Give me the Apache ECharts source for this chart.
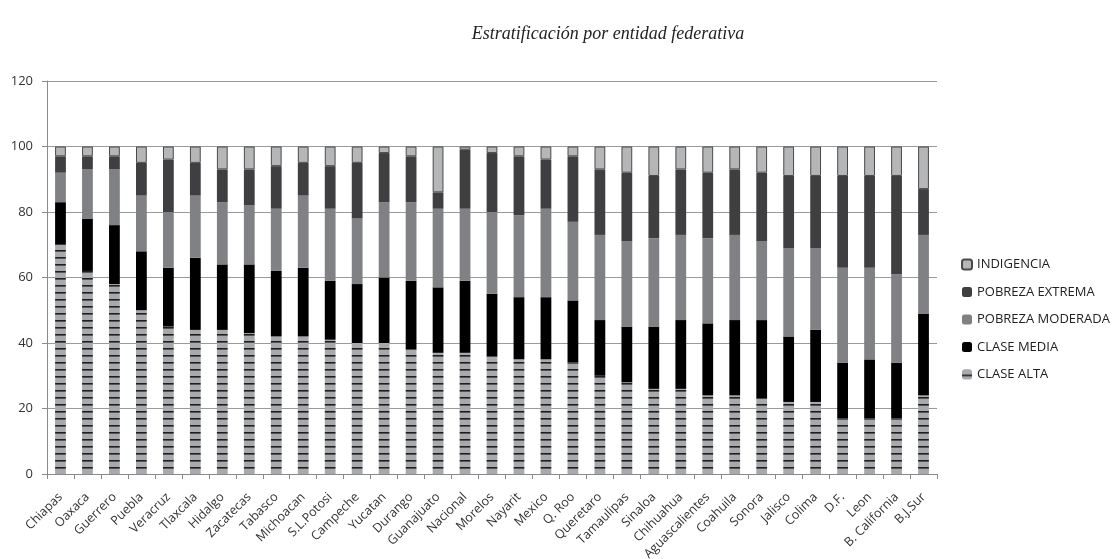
<!DOCTYPE html>
<html><head><meta charset="utf-8">
<script src="https://cdn.jsdelivr.net/npm/echarts@6/dist/echarts.min.js"></script>
<style>html,body{margin:0;padding:0;background:#fff}#c{width:1118px;height:559px}</style>
</head><body><div id="c"></div>
<script>
const categories = ['Chiapas','Oaxaca','Guerrero','Puebla','Veracruz','Tlaxcala','Hidalgo','Zacatecas','Tabasco','Michoacan','S.L.Potosi','Campeche','Yucatan','Durango','Guanajuato','Nacional','Morelos','Nayarit','Mexico','Q. Roo','Queretaro','Tamaulipas','Sinaloa','Chihuahua','Aguascalientes','Coahuila','Sonora','Jalisco','Colima','D.F.','Leon','B. California','B.J.Sur'];
const claseAlta      = [70,62,58,50,45,44,44,43,42,42,41,40,40,38,37,37,36,35,35,34,30,28,26,26,24,24,23,22,22,17,17,17,24];
const claseMedia     = [13,16,18,18,18,22,20,21,20,21,18,18,20,21,20,22,19,19,19,19,17,17,19,21,22,23,24,20,22,17,18,17,25];
const pobrezaModerada= [ 9,15,17,17,17,19,19,18,19,22,22,20,23,24,24,22,25,25,27,24,26,26,27,26,26,26,24,27,25,29,28,27,24];
const pobrezaExtrema = [ 5, 4, 4,10,16,10,10,11,13,10,13,17,15,14, 5,18,18,18,15,20,20,21,19,20,20,20,21,22,22,28,28,30,14];
const indigencia     = [ 3, 3, 3, 5, 4, 5, 7, 7, 6, 5, 6, 5, 2, 3,14, 1, 2, 3, 4, 3, 7, 8, 9, 7, 8, 7, 8, 9, 9, 9, 9, 9,13];
const yTicks = [0,20,40,60,80,100,120];

const pc = document.createElement('canvas');
pc.width = 4; pc.height = 7;
const g = pc.getContext('2d');
g.fillStyle = '#a7a9ac'; g.fillRect(0,0,4,7);
g.fillStyle = '#1e1e1e'; g.fillRect(0,5,4,1.6);

const chart = echarts.init(document.getElementById('c'));
const base = {type:'bar', stack:'t', barWidth:'40%'};
chart.setOption({
  animation:false,
  title:{text:'Estratificación por entidad federativa', left:603, top:20, textAlign:'center',
    textStyle:{fontFamily:'Liberation Serif', fontStyle:'italic', fontWeight:'normal', fontSize:18, color:'#222'}},
  grid:{left:47, right:181, top:81, bottom:85, containLabel:false, outerBoundsMode:'none'},
  legend:{orient:'vertical', left:956, top:253, itemWidth:10, itemHeight:10, itemGap:14.5,
    data:['INDIGENCIA','POBREZA EXTREMA','POBREZA MODERADA','CLASE MEDIA','CLASE ALTA'],
    textStyle:{fontFamily:'Open Sans', fontSize:13, color:'#222'}},
  xAxis:{type:'category', data:categories,
    axisLine:{lineStyle:{color:'#8a8a8a'}},
    axisTick:{show:true, alignWithLabel:false, length:5, lineStyle:{color:'#8a8a8a'}},
    axisLabel:{rotate:45, interval:0, fontFamily:'Open Sans', fontSize:12.5, color:'#333', margin:21}},
  yAxis:{type:'value', min:yTicks[0], max:yTicks[yTicks.length-1], interval:20,
    axisLine:{show:true, lineStyle:{color:'#8a8a8a'}},
    axisTick:{show:true, length:5, lineStyle:{color:'#8a8a8a'}},
    splitLine:{lineStyle:{color:'#9a9a9a'}},
    axisLabel:{fontFamily:'Open Sans', fontSize:13, color:'#333', margin:14}},
  series:[
    Object.assign({}, base, {name:'CLASE ALTA', data:claseAlta, itemStyle:{color:{image:pc, repeat:'repeat'}}}),
    Object.assign({}, base, {name:'CLASE MEDIA', data:claseMedia, itemStyle:{color:'#000000'}}),
    Object.assign({}, base, {name:'POBREZA MODERADA', data:pobrezaModerada, itemStyle:{color:'#808184'}}),
    Object.assign({}, base, {name:'POBREZA EXTREMA', data:pobrezaExtrema, itemStyle:{color:'#3f3f41'}}),
    Object.assign({}, base, {name:'INDIGENCIA', data:indigencia, itemStyle:{color:'#b4b6b8', borderColor:'#4a4a4a', borderWidth:1}})
  ]
});
</script></body></html>
